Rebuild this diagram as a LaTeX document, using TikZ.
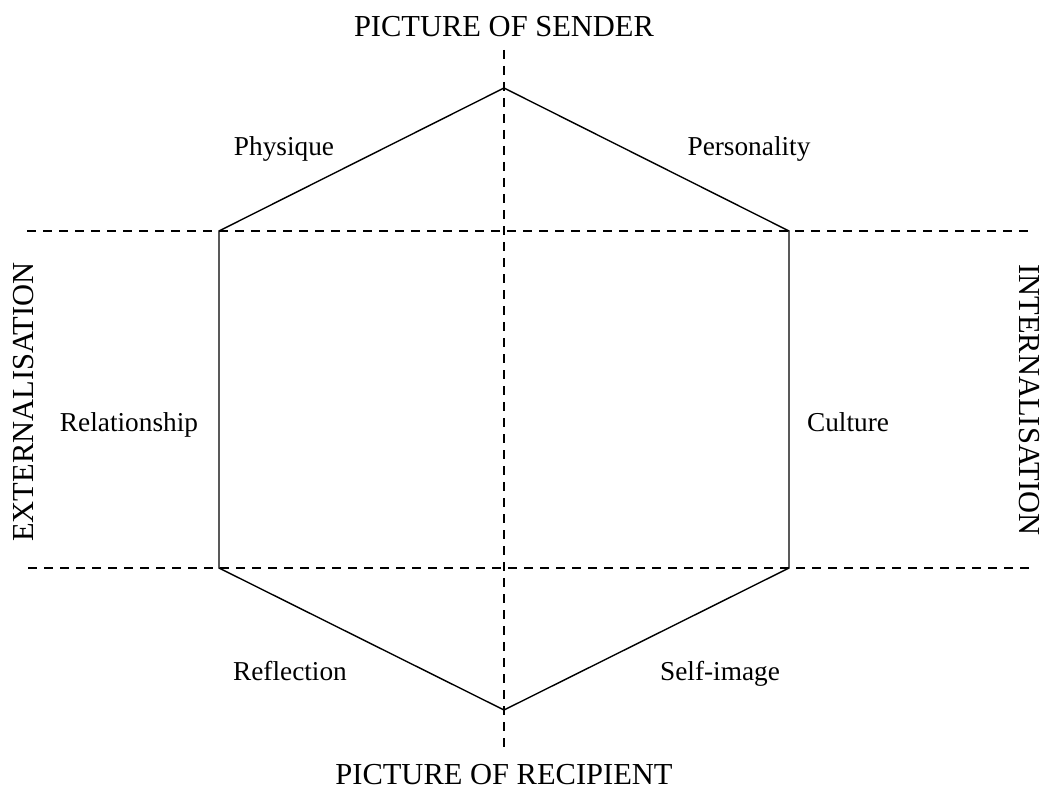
\documentclass[tikz,border=0pt]{standalone}
\usepackage{fontspec}
\setmainfont{Liberation Serif}
\tikzset{
  hexline/.style={line width=1.4pt, line join=miter},
  guide/.style={line width=2pt, dash pattern=on 9pt off 7pt},
  biglabel/.style={font=\fontsize{30.5}{36}\selectfont, inner sep=0pt},
  smalllabel/.style={font=\fontsize{27.3}{33}\selectfont, inner sep=0pt, anchor=base},
}
\begin{document}
\begin{tikzpicture}[x=1pt,y=-1pt]
\useasboundingbox (0,0) rectangle (1042,789);
% hexagon vertices
\coordinate (T) at (504,88);
\coordinate (UL) at (219,231);
\coordinate (UR) at (789,231);
\coordinate (LL) at (219,568);
\coordinate (LR) at (789,568);
\coordinate (B) at (504,710);
% guide ends
\coordinate (htl) at (27,231);
\coordinate (htr) at (1028,231);
\coordinate (hbl) at (28,568);
\coordinate (hbr) at (1030,568);
\coordinate (vt) at (504,50);
\coordinate (vb) at (504,754);
% dashed guides
\draw[guide] (htl) -- (htr);
\draw[guide] (hbl) -- (hbr);
\draw[guide] (vt) -- (vb);
% hexagon
\draw[hexline] (T) -- (UR) -- (LR) -- (B) -- (LL) -- (UL) -- cycle;
% labels
\node[biglabel, anchor=base] (sender) at (504,37) {PICTURE OF SENDER};
\node[biglabel, anchor=base] (recipient) at (504,784) {PICTURE OF RECIPIENT};
\node[biglabel, anchor=base, rotate=90] (ext) at (33,402) {EXTERNALISATION};
\node[biglabel, anchor=base, rotate=-90] (int) at (1019,400) {INTERNALISATION};
\node[smalllabel] (physique) at (284,156) {Physique};
\node[smalllabel] (personality) at (749,156) {Personality};
\node[smalllabel] (relationship) at (129,431) {Relationship};
\node[smalllabel] (culture) at (848,431) {Culture};
\node[smalllabel] (reflection) at (290,680) {Reflection};
\node[smalllabel] (selfimage) at (720,680) {Self-image};
\end{tikzpicture}
\end{document}
